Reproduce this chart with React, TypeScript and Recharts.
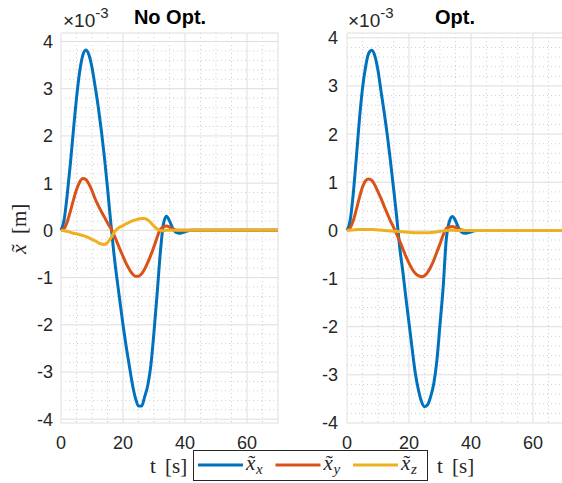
import React from 'react';
import { LineChart, Line, XAxis, YAxis, CartesianGrid } from 'recharts';

// sample times (s)
const TIME = [
  0, 1, 2, 3, 4, 5, 6, 7, 8, 9, 10, 11, 12, 13, 14, 15, 16, 17, 18, 19,
  20, 21, 22, 23, 24, 25, 26, 27, 28, 29, 30, 31, 32, 33, 34, 35, 36, 37, 38, 39,
  40, 41, 42, 43, 44, 50, 55, 60, 65, 70,
];

// No Opt. (x 1e-3 m)
const NO_OPT_X = [
  0, 0.22, 0.75, 1.4, 2.12, 2.8, 3.35, 3.7, 3.82, 3.72,
  3.45, 3.05, 2.62, 2.12, 1.55, 0.9, 0.2, -0.45, -1.0, -1.5,
  -2.0, -2.45, -2.85, -3.25, -3.55, -3.72, -3.72, -3.52, -3.28, -2.85,
  -2.15, -1.35, -0.5, 0.12, 0.3, 0.2, 0.05, -0.04, -0.06, -0.05,
  -0.03, -0.01, 0, 0, 0, 0, 0, 0, 0, 0,
];
const NO_OPT_Y = [
  0, 0.04, 0.18, 0.4, 0.64, 0.86, 1.02, 1.1, 1.08, 0.98,
  0.84, 0.67, 0.53, 0.4, 0.28, 0.16, 0.05, -0.08, -0.24, -0.4,
  -0.55, -0.7, -0.82, -0.92, -0.97, -0.97, -0.92, -0.82, -0.68, -0.52,
  -0.34, -0.15, 0.02, 0.07, 0.09, 0.07, 0.03, 0.01, 0, 0,
  0, 0, 0, 0, 0, 0, 0, 0, 0, 0,
];
const NO_OPT_Z = [
  0, -0.01, -0.02, -0.04, -0.06, -0.07, -0.09, -0.11, -0.13, -0.16,
  -0.19, -0.22, -0.26, -0.29, -0.3, -0.26, -0.17, -0.06, 0.02, 0.07,
  0.1, 0.14, 0.17, 0.2, 0.22, 0.24, 0.25, 0.25, 0.22, 0.16,
  0.09, 0.03, 0, -0.01, 0, 0, 0, 0, 0, 0,
  0, 0, 0, 0, 0, 0, 0, 0, 0, 0,
];

// Opt.
const OPT_X = [
  0, 0.2, 0.75, 1.5, 2.3, 2.95, 3.4, 3.68, 3.74, 3.62,
  3.32, 2.88, 2.45, 1.98, 1.45, 0.88, 0.3, -0.35, -0.85, -1.4,
  -1.92, -2.45, -2.95, -3.3, -3.55, -3.66, -3.62, -3.45, -3.18, -2.7,
  -1.95, -1.2, -0.2, 0.18, 0.29, 0.2, 0.05, -0.04, -0.06, -0.05,
  -0.03, -0.01, 0, 0, 0, 0, 0, 0, 0, 0,
];
const OPT_Y = [
  0, 0.05, 0.2, 0.43, 0.68, 0.9, 1.03, 1.07, 1.04, 0.94,
  0.8, 0.66, 0.5, 0.35, 0.2, 0.07, -0.07, -0.22, -0.38, -0.54,
  -0.68, -0.8, -0.89, -0.94, -0.96, -0.94, -0.87, -0.76, -0.62, -0.45,
  -0.28, -0.1, 0.04, 0.07, 0.08, 0.06, 0.03, 0.01, 0, 0,
  0, 0, 0, 0, 0, 0, 0, 0, 0, 0,
];
const OPT_Z = [
  0, 0.005, 0.01, 0.015, 0.02, 0.02, 0.02, 0.02, 0.02, 0.015,
  0.01, 0.005, 0, -0.005, -0.01, -0.015, -0.02, -0.025, -0.03, -0.035,
  -0.04, -0.045, -0.05, -0.05, -0.05, -0.05, -0.05, -0.045, -0.04, -0.03,
  -0.02, -0.01, 0, 0.005, 0.005, 0, 0, 0, 0, 0,
  0, 0, 0, 0, 0, 0, 0, 0, 0, 0,
];

const X_TICKS = [0, 20, 40, 60];
const Y_TICKS = [-4, -3, -2, -1, 0, 1, 2, 3, 4];
const X_DOMAIN: [number, number] = [0, 70];

const SERIES = [
  { key: 'x', sub: 'x', color: '#0072BD' },
  { key: 'y', sub: 'y', color: '#D95319' },
  { key: 'z', sub: 'z', color: '#EDB120' },
];

// minor grid: every 5 s, every 0.2e-3 m
const X_MINOR: number[] = [];
for (let v = 5; v < 70; v += 5) if (v % 20 !== 0) X_MINOR.push(v);
const Y_MINOR: number[] = [];
for (let i = -20; i <= 20; i++) if (i % 5 !== 0) Y_MINOR.push(+(i * 0.2).toFixed(1));

const rowsOf = (xs: number[], ys: number[], zs: number[]) =>
  TIME.map((t, i) => ({ t, x: xs[i], y: ys[i], z: zs[i] }));

const noOptRows = rowsOf(NO_OPT_X, NO_OPT_Y, NO_OPT_Z);
const optRows = rowsOf(OPT_X, OPT_Y, OPT_Z);

const INK = '#262626';
const SANS = '"Liberation Sans", Arial, Helvetica, sans-serif';
const SERIF = '"Liberation Serif", "Times New Roman", serif';
const TICK = { fontSize: 18, fill: INK, fontFamily: SANS };
const EDGE = { stroke: INK, strokeWidth: 1 };
const LW = 3;
const blank = () => '';

type PanelProps = {
  rows: any[];
  yDomain: [number, number];
  width: number;
  yWidth: number;
  right: number;
  yTickMargin: number;
};

function Panel({ rows, yDomain, width, yWidth, right, yTickMargin }: PanelProps) {
  return (
    <LineChart width={width} height={483} data={rows} margin={{ top: 33, right, bottom: 15, left: 0 }}>
      <CartesianGrid verticalValues={X_MINOR} horizontalValues={Y_MINOR} stroke="#c4c4c4" strokeDasharray="1 3" strokeWidth={0.8} />
      <CartesianGrid stroke="#dedede" strokeWidth={1} />
      {SERIES.map((s) => (
        <Line key={s.key} dataKey={s.key} type="monotone" stroke={s.color} strokeWidth={LW}
          dot={false} activeDot={false} isAnimationActive={false} />
      ))}
      <XAxis xAxisId="in" orientation="bottom" mirror height={0} type="number" domain={X_DOMAIN}
        ticks={X_TICKS} interval={0} tickFormatter={blank} tickSize={4} axisLine={EDGE} tickLine={EDGE} />
      <XAxis dataKey="t" type="number" domain={X_DOMAIN} ticks={X_TICKS} interval={0} height={45}
        axisLine={false} tickLine={false} tick={TICK} tickMargin={7} />
      <XAxis xAxisId="top" orientation="top" mirror height={0} type="number" domain={X_DOMAIN}
        ticks={X_TICKS} interval={0} tickFormatter={blank} tickSize={4} axisLine={EDGE} tickLine={EDGE} />
      <YAxis yAxisId="in" orientation="left" mirror width={0} type="number" domain={yDomain}
        ticks={Y_TICKS} interval={0} tickFormatter={blank} tickSize={4} axisLine={EDGE} tickLine={EDGE} />
      <YAxis type="number" domain={yDomain} ticks={Y_TICKS} interval={0} width={yWidth}
        axisLine={false} tickLine={false} tick={TICK} tickMargin={yTickMargin} />
      <YAxis yAxisId="r" orientation="right" mirror width={0} type="number" domain={yDomain}
        ticks={Y_TICKS} interval={0} tickFormatter={blank} tickSize={4} axisLine={EDGE} tickLine={EDGE} />
    </LineChart>
  );
}

function Scale({ x }: { x: number }) {
  return (
    <text x={x} y={27} fill={INK} fontFamily={SANS} fontSize={19}>
      ×10<tspan fontSize={15} dy={-9}>-3</tspan>
    </text>
  );
}

// italic x with a tilde accent, baseline at (x, y)
function XTilde({ x, y, size }: { x: number; y: number; size: number }) {
  return (
    <g fontFamily={SERIF} fill={INK}>
      <text x={x} y={y} fontSize={size} fontStyle="italic">x</text>
      <text x={x + size * 0.27} y={y + size * 0.02} fontSize={size} textAnchor="middle">{'\u02DC'}</text>
    </g>
  );
}

function Overlay() {
  return (
    <svg width={562} height={483} style={{ position: 'absolute', left: 0, top: 0, pointerEvents: 'none' }}>
      <text x={170} y={24} textAnchor="middle" fontFamily={SANS} fontWeight="bold" fontSize={20} fill="#000">No Opt.</text>
      <text x={455} y={24} textAnchor="middle" fontFamily={SANS} fontWeight="bold" fontSize={20} fill="#000">Opt.</text>
      <Scale x={63} />
      <Scale x={348} />

      <g transform="translate(18 229) rotate(-90)">
        <XTilde x={-25} y={8} size={22} />
        <text x={-5} y={8} fontFamily={SERIF} fontSize={21} fill={INK}>[m]</text>
      </g>
      <text x={150} y={473} fontFamily={SERIF} fontSize={21} fill={INK} wordSpacing={4}>t [s]</text>
      <text x={437} y={473} fontFamily={SERIF} fontSize={21} fill={INK} wordSpacing={4}>t [s]</text>

      <rect x={193.5} y={450.5} width={234} height={30} fill="#fff" stroke={INK} strokeWidth={1} />
      {SERIES.map((s, i) => {
        const x0 = 198 + i * 77.5;
        return (
          <g key={s.key}>
            <line x1={x0} x2={x0 + 45} y1={465} y2={465} stroke={s.color} strokeWidth={LW} />
            <XTilde x={x0 + 48} y={470} size={21} />
            <text x={x0 + 58} y={474} fontFamily={SERIF} fontSize={15} fontStyle="italic" fill={INK}>{s.sub}</text>
          </g>
        );
      })}
    </svg>
  );
}

export default function App() {
  return (
    <div style={{ position: 'absolute', left: 0, top: 0, width: 562, height: 483, overflow: 'hidden', background: '#fff' }}>
      <div style={{ position: 'absolute', left: 0, top: 0 }}>
        <Panel rows={noOptRows} yDomain={[-4.08, 4.18]} width={290} yWidth={61} right={12} yTickMargin={2} />
      </div>
      <div style={{ position: 'absolute', left: 290, top: 0 }}>
        <Panel rows={optRows} yDomain={[-4, 4.1]} width={280} yWidth={57} right={6} yTickMargin={3} />
      </div>
      <Overlay />
    </div>
  );
}
